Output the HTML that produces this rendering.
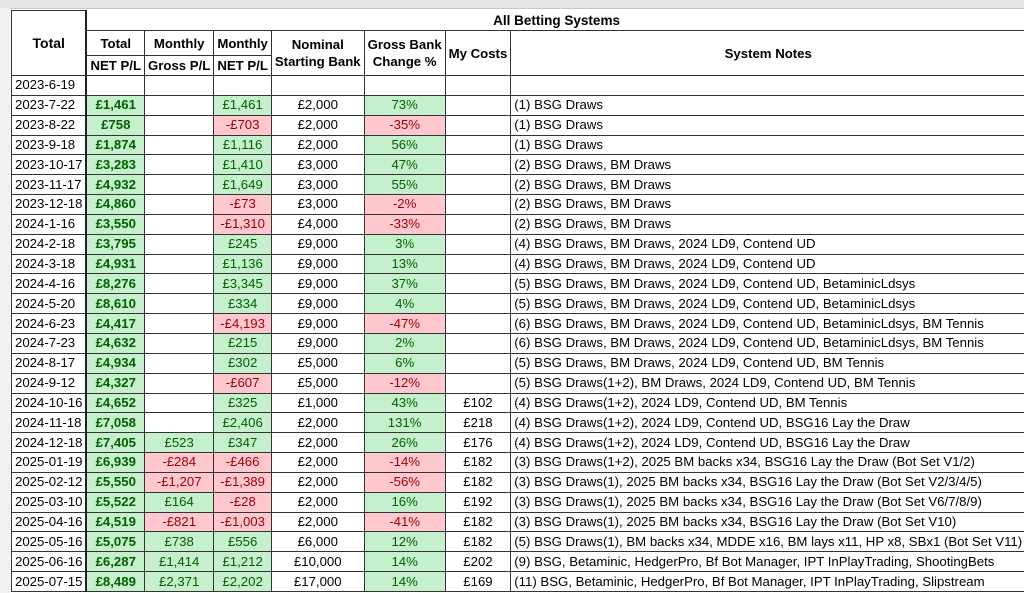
<!DOCTYPE html>
<html><head><meta charset="utf-8">
<style>
html,body{margin:0;padding:0;background:#fff;width:1024px;height:593px;overflow:hidden;}
body{font-family:"Liberation Sans",Arial,sans-serif;font-size:13.2px;color:#000;position:relative;}
#colhdr{position:absolute;left:0;top:0;width:1024px;height:8px;background:#e6e6e6;border-bottom:1px solid #c8c8c8;}
#rowhdr{position:absolute;left:0;top:8px;width:10px;height:585px;background:#f0f0f0;}
table{position:absolute;left:11px;top:10px;border-collapse:collapse;table-layout:fixed;}
td{border:1px solid #333;padding:0 3px;height:18.8px;line-height:18px;white-space:nowrap;overflow:hidden;text-align:center;}
td.l{text-align:left;}
td.h{font-weight:bold;line-height:17px;font-size:13.2px;}
.g{background:#c6efce;color:#006100;}
.r{background:#ffc7ce;color:#9c0006;}
.b{font-weight:bold;}
.tb{border-right:2px solid #222;}
</style></head><body>
<div id="colhdr"></div>
<div id="rowhdr"></div>
<table id="t">
<colgroup><col style="width:79px"><col style="width:57px"><col style="width:66px"><col style="width:60px"><col style="width:91px"><col style="width:76px"><col style="width:64px"><col style="width:516px"></colgroup>
<tr style="height:20px"><td rowspan="3" class="h tb" style="font-size:14px">Total</td><td colspan="7" class="h" style="border-top:none;border-right:none;font-size:13.5px">All Betting Systems</td></tr>
<tr style="height:25px"><td class="h">Total</td><td class="h">Monthly</td><td class="h">Monthly</td><td rowspan="2" class="h">Nominal<br>Starting Bank</td><td rowspan="2" class="h">Gross Bank<br>Change %</td><td rowspan="2" class="h">My Costs</td><td rowspan="2" class="h">System Notes</td></tr>
<tr style="height:20px"><td class="h">NET P/L</td><td class="h">Gross P/L</td><td class="h">NET P/L</td></tr>
</table>
<script>
const dates=["2023-6-19","2023-7-22","2023-8-22","2023-9-18","2023-10-17","2023-11-17","2023-12-18","2024-1-16","2024-2-18","2024-3-18","2024-4-16","2024-5-20","2024-6-23","2024-7-23","2024-8-17","2024-9-12","2024-10-16","2024-11-18","2024-12-18","2025-01-19","2025-02-12","2025-03-10","2025-04-16","2025-05-16","2025-06-16","2025-07-15"];
const totalNet=[null,1461,758,1874,3283,4932,4860,3550,3795,4931,8276,8610,4417,4632,4934,4327,4652,7058,7405,6939,5550,5522,4519,5075,6287,8489];
const monthlyGross=[null,null,null,null,null,null,null,null,null,null,null,null,null,null,null,null,null,null,523,-284,-1207,164,-821,738,1414,2371];
const monthlyNet=[null,1461,-703,1116,1410,1649,-73,-1310,245,1136,3345,334,-4193,215,302,-607,325,2406,347,-466,-1389,-28,-1003,556,1212,2202];
const bank=[null,2000,2000,2000,3000,3000,3000,4000,9000,9000,9000,9000,9000,9000,5000,5000,1000,2000,2000,2000,2000,2000,2000,6000,10000,17000];
const change=[null,73,-35,56,47,55,-2,-33,3,13,37,4,-47,2,6,-12,43,131,26,-14,-56,16,-41,12,14,14];
const costs=[null,null,null,null,null,null,null,null,null,null,null,null,null,null,null,null,102,218,176,182,182,192,182,182,202,169];
const notes=["","(1) BSG Draws","(1) BSG Draws","(1) BSG Draws","(2) BSG Draws, BM Draws","(2) BSG Draws, BM Draws","(2) BSG Draws, BM Draws","(2) BSG Draws, BM Draws","(4) BSG Draws, BM Draws, 2024 LD9, Contend UD","(4) BSG Draws, BM Draws, 2024 LD9, Contend UD","(5) BSG Draws, BM Draws, 2024 LD9, Contend UD, BetaminicLdsys","(5) BSG Draws, BM Draws, 2024 LD9, Contend UD, BetaminicLdsys","(6) BSG Draws, BM Draws, 2024 LD9, Contend UD, BetaminicLdsys, BM Tennis","(6) BSG Draws, BM Draws, 2024 LD9, Contend UD, BetaminicLdsys, BM Tennis","(5) BSG Draws, BM Draws, 2024 LD9, Contend UD, BM Tennis","(5) BSG Draws(1+2), BM Draws, 2024 LD9, Contend UD, BM Tennis","(4) BSG Draws(1+2), 2024 LD9, Contend UD, BM Tennis","(4) BSG Draws(1+2), 2024 LD9, Contend UD, BSG16 Lay the Draw","(4) BSG Draws(1+2), 2024 LD9, Contend UD, BSG16 Lay the Draw","(3) BSG Draws(1+2), 2025 BM backs x34, BSG16 Lay the Draw (Bot Set V1/2)","(3) BSG Draws(1), 2025 BM backs x34, BSG16 Lay the Draw (Bot Set V2/3/4/5)","(3) BSG Draws(1), 2025 BM backs x34, BSG16 Lay the Draw (Bot Set V6/7/8/9)","(3) BSG Draws(1), 2025 BM backs x34, BSG16 Lay the Draw (Bot Set V10)","(5) BSG Draws(1),  BM backs x34, MDDE x16, BM lays x11, HP x8, SBx1 (Bot Set V11)","(9) BSG, Betaminic, HedgerPro, Bf Bot Manager, IPT InPlayTrading, ShootingBets","(11) BSG, Betaminic, HedgerPro, Bf Bot Manager, IPT InPlayTrading, Slipstream"];
function money(v){return (v<0?"-£":"£")+Math.abs(v).toLocaleString("en-GB");}
const t=document.getElementById("t");
dates.forEach((d,i)=>{
  const tr=document.createElement("tr");
  
  
  tr.style.height="19.85px";
  const cells=[
    [d,"l tb","date-cell"],
    [totalNet[i]==null?"":money(totalNet[i]),totalNet[i]==null?"":"g b","total-net-cell"],
    [monthlyGross[i]==null?"":money(monthlyGross[i]),monthlyGross[i]==null?"":(monthlyGross[i]<0?"r":"g"),"monthly-gross-cell"],
    [monthlyNet[i]==null?"":money(monthlyNet[i]),monthlyNet[i]==null?"":(monthlyNet[i]<0?"r":"g"),"monthly-net-cell"],
    [bank[i]==null?"":money(bank[i]),"","starting-bank-cell"],
    [change[i]==null?"":change[i]+"%",change[i]==null?"":(change[i]<0?"r":"g"),"bank-change-cell"],
    [costs[i]==null?"":money(costs[i]),"","my-costs-cell"],
    [notes[i],"l","system-notes-cell"]
  ];
  cells.forEach(c=>{
    const td=document.createElement("td");
    td.textContent=c[0];
    if(c[1])td.className=c[1];
    
    
    tr.appendChild(td);
  });
  t.appendChild(tr);
});
</script>
</body></html>
